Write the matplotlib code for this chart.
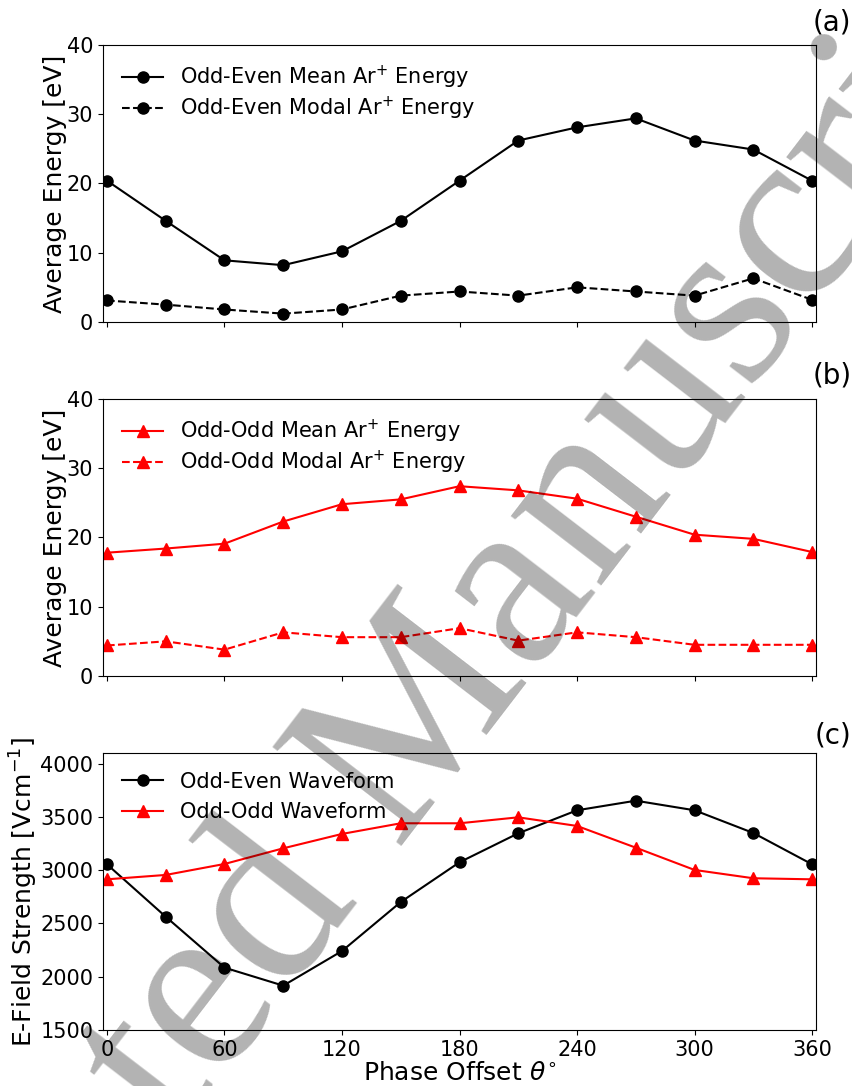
import numpy as np
from matplotlib import pyplot as plt

# phase offset in degrees
phase = [0, 30, 60, 90, 120, 150, 180, 210, 240, 270, 300, 330, 360]

# (a) odd-even waveform, Ar+ energy [eV]
oe_mean = [20.4, 14.6, 8.9, 8.2, 10.2, 14.6, 20.4, 26.2, 28.1, 29.4, 26.2, 24.9, 20.4]
oe_modal = [3.1, 2.5, 1.8, 1.2, 1.8, 3.8, 4.4, 3.8, 5.0, 4.4, 3.8, 6.3, 3.2]

# (b) odd-odd waveform, Ar+ energy [eV]
oo_mean = [17.8, 18.4, 19.1, 22.3, 24.8, 25.5, 27.4, 26.8, 25.6, 23.0, 20.4, 19.8, 17.9]
oo_modal = [4.4, 5.0, 3.8, 6.3, 5.6, 5.6, 6.9, 5.1, 6.3, 5.6, 4.5, 4.5, 4.5]

# (c) E-field strength [V/cm]
oe_field = [3055, 2563, 2085, 1916, 2241, 2701, 3074, 3346, 3562, 3652, 3562, 3349, 3055]
oo_field = [2914, 2955, 3058, 3205, 3340, 3440, 3440, 3496, 3415, 3211, 3002, 2924, 2914]

fig, (ax1, ax2, ax3) = plt.subplots(3, 1, sharex=True, figsize=(8.53, 10.86), dpi=100)
fig.subplots_adjust(left=0.1208, right=0.9566, top=0.9586, bottom=0.0516, hspace=0.278)

ax1.plot(phase, oe_mean, 'k-o', ms=8, label=r'Odd-Even Mean Ar$^{+}$ Energy')
ax1.plot(phase, oe_modal, 'k--o', ms=8, label=r'Odd-Even Modal Ar$^{+}$ Energy')
ax1.set_ylim(0, 40)
ax1.set_ylabel('Average Energy [eV]', fontsize=18, labelpad=0)
ax1.legend(loc='upper left', frameon=False, fontsize=15, labelspacing=0.17)

ax2.plot(phase, oo_mean, 'r-^', ms=8, label=r'Odd-Odd Mean Ar$^{+}$ Energy')
ax2.plot(phase, oo_modal, 'r--^', ms=8, label=r'Odd-Odd Modal Ar$^{+}$ Energy')
ax2.set_ylim(0, 40)
ax2.set_ylabel('Average Energy [eV]', fontsize=18, labelpad=0)
ax2.legend(loc='upper left', frameon=False, fontsize=15, labelspacing=0.17)

ax3.plot(phase, oe_field, 'k-o', ms=8, label='Odd-Even Waveform')
ax3.plot(phase, oo_field, 'r-^', ms=8, label='Odd-Odd Waveform')
ax3.set_ylim(1500, 4100)
ax3.set_yticks([1500, 2000, 2500, 3000, 3500, 4000])
ax3.set_ylabel(r'E-Field Strength [Vcm$^{-1}$]', fontsize=18, labelpad=0)
ax3.set_xlabel(r'Phase Offset $\theta^{\circ}$', fontsize=18, labelpad=1)
ax3.legend(loc='upper left', frameon=False, fontsize=15)

ax3.set_xlim(-2, 362)
ax3.set_xticks([0, 60, 120, 180, 240, 300, 360])
for ax in (ax1, ax2, ax3):
    ax.tick_params(labelsize=15)

fig.text(0.998, 0.9797, '(a)', ha='right', va='center', fontsize=20)
fig.text(0.998, 0.6538, '(b)', ha='right', va='center', fontsize=20)
fig.text(0.998, 0.3232, '(c)', ha='right', va='center', fontsize=20)

# watermark
fig.text(-0.2438, -0.5110, 'Accepted Manuscript', family='Liberation Serif', fontsize=178,
         color='black', alpha=0.3, rotation=52.5, ha='left', va='baseline',
         rotation_mode='anchor', zorder=10)

plt.savefig('out.png', dpi=100)
plt.close()
